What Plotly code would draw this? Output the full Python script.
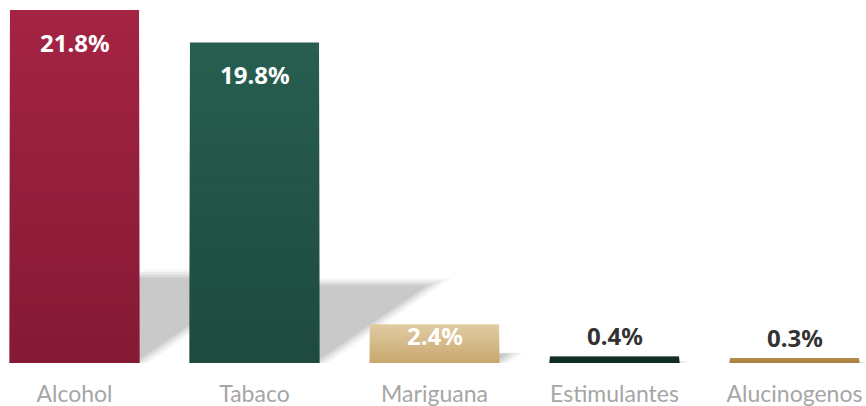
import plotly.graph_objects as go

categories = ["Alcohol", "Tabaco", "Mariguana", "Estimulantes", "Alucinogenos"]
values = [21.8, 19.8, 2.4, 0.4, 0.3]
labels = ["21.8%", "19.8%", "2.4%", "0.4%", "0.3%"]
top_colors = ["#a42343", "#275e50", "#e0cba2", "#12302a", "#b58d4c"]
bottom_colors = ["#851a36", "#1e4a3f", "#c9a86f", "#0f2b25", "#a88040"]

BAR_W = 0.717
Y_MAX = 22.42
PX_X = 180.0            # pixels per category unit
PX_Y = 363 / Y_MAX      # pixels per y unit


def hex2rgb(h):
    h = h.lstrip("#")
    return tuple(int(h[i:i + 2], 16) for i in (0, 2, 4))


def mix(c1, c2, t):
    a, b = hex2rgb(c1), hex2rgb(c2)
    return "rgb(%d,%d,%d)" % tuple(round(a[i] + (b[i] - a[i]) * t) for i in range(3))


fig = go.Figure()

# soft cast shadows as layout shapes below the bars
shapes = []
for i, v in enumerate(values):
    h = 0.25 * v                       # shadow height in y units
    skew = 1.45 * h * PX_Y / PX_X      # horizontal skew in x units
    for grow, op in [(0.05, 0.08), (0.025, 0.12), (0.0, 0.17), (-0.025, 0.20)]:
        x0 = i - BAR_W / 2
        x1 = i + BAR_W / 2 + grow
        g = 1 + grow * 1.2
        hh = h * g
        sk = skew * g
        path = "M %f,%f L %f,%f L %f,%f L %f,%f Z" % (x0, 0, x1, 0, x1 + sk, hh, x0 + sk, hh)
        shapes.append(dict(type="path", path=path, xref="x", yref="y", layer="below",
                           fillcolor="rgba(140,140,140,%.2f)" % op, line=dict(width=0)))

# gradient bars via overlaid bands
N = 30
for k in range(N):
    frac = (N - k) / N
    t = k / (N - 1)
    fig.add_trace(go.Bar(
        x=list(range(len(categories))),
        y=[v * frac for v in values],
        width=BAR_W,
        marker=dict(color=[mix(top_colors[i], bottom_colors[i], t) for i in range(len(values))],
                    line=dict(width=0)),
        hoverinfo="skip", showlegend=False,
    ))

# value labels
for i, (v, lab) in enumerate(zip(values, labels)):
    if v > 5:
        shift, col = -32, "white"
    elif v > 1:
        shift, col = -11, "white"
    else:
        shift, col = 21, "#333333"
    fig.add_annotation(
        x=i, y=v, xref="x", yref="y", text="<b>%s</b>" % lab, showarrow=False,
        yanchor="middle", yshift=shift,
        font=dict(family="Noto Sans, sans-serif", size=24, color=col),
    )

fig.update_layout(
    width=866, height=406,
    margin=dict(l=0, r=0, t=0, b=43),
    paper_bgcolor="white", plot_bgcolor="white",
    barmode="overlay",
    shapes=shapes,
    xaxis=dict(
        range=[-74.5 / PX_X, -74.5 / PX_X + 866 / PX_X],
        tickmode="array", tickvals=list(range(len(categories))), ticktext=categories,
        showgrid=False, zeroline=False, showline=False, ticks="",
        tickfont=dict(family="Lato, sans-serif", size=23, color="#a6a6a6"),
        ticklabelstandoff=15,
        automargin=False,
    ),
    yaxis=dict(range=[0, Y_MAX], visible=False, showgrid=False, zeroline=False),
)

fig.write_html("out.html", config={"displayModeBar": False},
               post_script="document.body.style.margin='0px';document.body.style.overflow='hidden';")
